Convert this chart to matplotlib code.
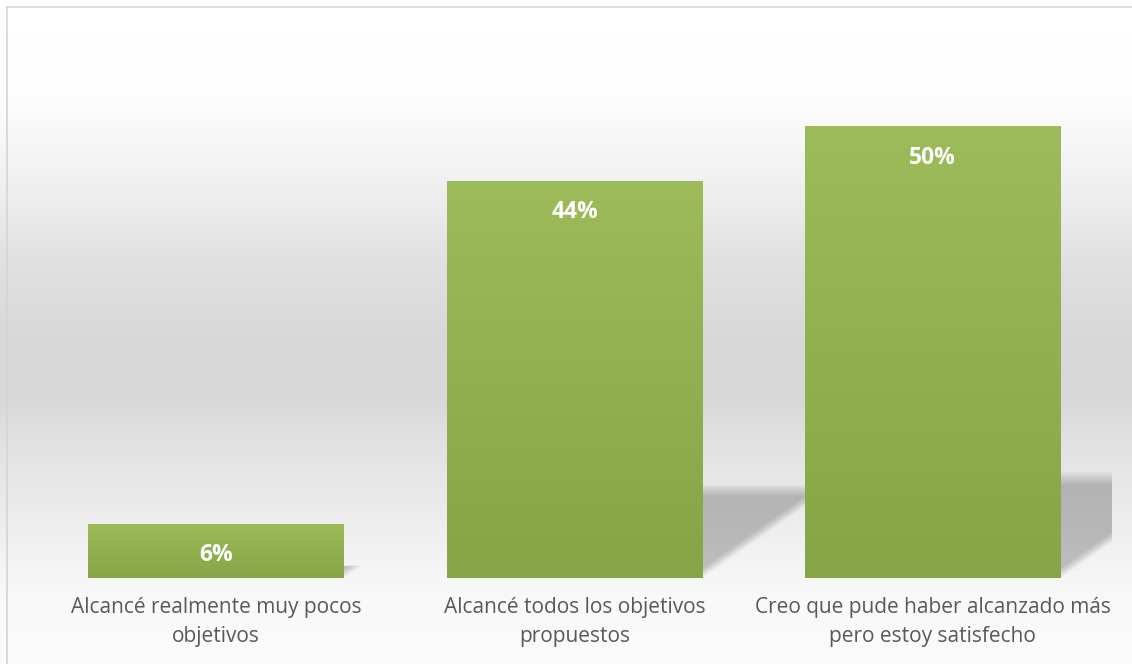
import numpy as np
import matplotlib
matplotlib.use('Agg')
import matplotlib.pyplot as plt
from matplotlib.patches import Polygon
from matplotlib.colors import LinearSegmentedColormap

categories = ['Alcancé realmente muy pocos\nobjetivos',
              'Alcancé todos los objetivos\npropuestos',
              'Creo que pude haber alcanzado más\npero estoy satisfecho']
values = [0.06, 0.44, 0.50]
labels = ['6%', '44%', '50%']

W, H = 1132, 664
fig = plt.figure(figsize=(W / 100, H / 100), dpi=100)

# chart area background: white at the top, grey band in the middle, fading back to white
bg = fig.add_axes([0, 0, 1, 1], zorder=-10)
stops_y = np.array([0, 100, 180, 260, 340, 400, 450, 520, 570, 600, 664]) / H
stops_v = np.array([255, 252, 240, 224, 215, 216, 226, 236, 244, 248, 250]) / 255
yy = np.linspace(0, 1, H)
grad = np.interp(yy, stops_y, stops_v)[:, None]
bg.imshow(np.repeat(grad, 2, axis=1), cmap='gray', vmin=0, vmax=1,
          aspect='auto', extent=[0, 1, 1, 0])
bg.set_xlim(0, 1)
bg.set_ylim(1, 0)
bg.axis('off')
# chart border (top and left edges)
bg.plot([7 / W, 1], [7 / H, 7 / H], color='#d4d4d4', lw=1.2)
bg.plot([7 / W, 7 / W], [7 / H, 1], color='#d4d4d4', lw=1.2)

ax = fig.add_axes([37 / W, 86 / H, 1075 / W, 542 / H])
ax.patch.set_alpha(0)
x = np.arange(len(categories))
ax.set_xlim(-0.5, len(categories) - 0.5)
ax.set_ylim(0, 0.6)
width = 0.714

# perspective shadows cast back and to the right of each bar
for xi, v in zip(x, values):
    left, right = xi - width / 2, xi + width / 2
    n = 10
    for i in range(n):
        t = i / (n - 1)
        sh = 0.235 * v * (1 - 0.12 * t)
        dx = sh / 0.7 * (904 / 358.5)
        shift = 0.04 * t
        pts = [(left, 0), (right - shift, 0),
               (right - shift + dx, sh), (left + dx, sh)]
        ax.add_patch(Polygon(pts, closed=True, facecolor='black',
                             edgecolor='none', alpha=0.022, zorder=1))

green = LinearSegmentedColormap.from_list('g', ['#86a546', '#9dbb59'])
bars = ax.bar(x, values, width=width, color='none', zorder=3)
for b in bars:
    x0, y0 = b.get_x(), b.get_y()
    img = ax.imshow(np.linspace(0, 1, 100)[:, None], cmap=green, aspect='auto',
                    origin='lower', extent=[x0, x0 + b.get_width(), y0, y0 + b.get_height()],
                    zorder=3)
    img.set_clip_path(b)

for xi, v, lab in zip(x, values, labels):
    ax.annotate(lab, (xi, v), xytext=(0, -22.5), textcoords='offset points',
                ha='center', va='center', color='white', fontsize=16.5,
                fontweight='bold', family='Open Sans', zorder=5)

ax.set_xticks(x)
ax.set_xticklabels(categories, fontsize=15, color='#595959', family='Open Sans',
                   linespacing=1.45)
ax.tick_params(axis='x', length=0, pad=14)
ax.set_yticks([])
for s in ax.spines.values():
    s.set_visible(False)

fig.savefig('out.png', dpi=100)
